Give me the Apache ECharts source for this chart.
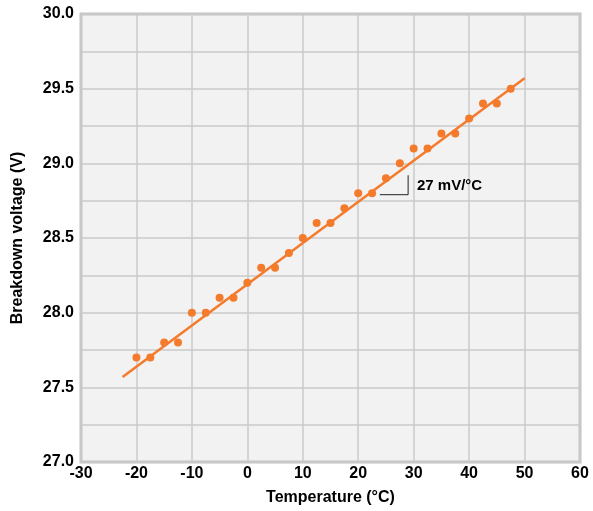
<!DOCTYPE html>
<html>
<head>
<meta charset="utf-8">
<script src="https://cdn.jsdelivr.net/npm/echarts@6/dist/echarts.min.js"></script>
<style>
  html, body { margin: 0; padding: 0; background: #fff; }
  #chart { width: 593px; height: 511px; }
</style>
</head>
<body>
<div id="chart"></div>
<script>
/**
 * DATA
 */
var temps = [-20, -17.5, -15, -12.5, -10, -7.5, -5, -2.5, 0, 2.5, 5, 7.5, 10, 12.5,
    15, 17.5, 20, 22.5, 25, 27.5, 30, 32.5, 35, 37.5, 40, 42.5, 45, 47.5];
var voltages = [27.7, 27.7, 27.8, 27.8, 28.0, 28.0, 28.1, 28.1, 28.2, 28.3, 28.3, 28.4, 28.5, 28.6,
    28.6, 28.7, 28.8, 28.8, 28.9, 29.0, 29.1, 29.1, 29.2, 29.2, 29.3, 29.4, 29.4, 29.5];
var fitLine = [[-22.5, 27.57], [50, 29.57]];
var slopeMark = [[23.9, 28.79], [29.0, 28.79], [29.0, 28.92]];
var slopeText = '27 mV/°C';
var slopeTextAt = [30.6, 28.85];

/**
 * CODE
 */
var orange = '#f47a2c';
var font = 'Liberation Sans, Arial, sans-serif';

var points = temps.map(function (t, i) {
    return [t, voltages[i]];
});

var chart = echarts.init(document.getElementById('chart'));
chart.setOption({
    animation: false,
    grid: {
        left: 81, top: 14, right: 13, bottom: 49,
        show: true,
        backgroundColor: '#f2f2f2',
        borderColor: '#c2c2c2',
        borderWidth: 3
    },
    xAxis: {
        type: 'value',
        min: -30, max: 60, interval: 10,
        name: 'Temperature (°C)',
        nameLocation: 'middle',
        nameGap: 28,
        nameTextStyle: {fontFamily: font, fontWeight: 'bold', fontSize: 16, color: '#000'},
        axisLine: {show: false},
        axisTick: {show: false},
        axisLabel: {fontFamily: font, fontWeight: 'bold', fontSize: 16, color: '#000', margin: 4},
        splitLine: {lineStyle: {color: '#cacaca', width: 1.5}}
    },
    yAxis: {
        type: 'value',
        min: 27, max: 30, interval: 0.5,
        name: 'Breakdown voltage (V)',
        nameLocation: 'middle',
        nameGap: 55,
        nameTextStyle: {fontFamily: font, fontWeight: 'bold', fontSize: 16, color: '#000'},
        axisLine: {show: false},
        axisTick: {show: false},
        minorTick: {show: false, splitNumber: 2},
        minorSplitLine: {show: true, lineStyle: {color: '#cacaca', width: 1.5}},
        axisLabel: {
            fontFamily: font, fontWeight: 'bold', fontSize: 16, color: '#000', margin: 7,
            formatter: function (v) { return v.toFixed(1); }
        },
        splitLine: {lineStyle: {color: '#cacaca', width: 1.5}}
    },
    series: [
        {
            type: 'line',
            data: fitLine,
            symbol: 'none',
            lineStyle: {color: orange, width: 2.5},
            z: 3
        },
        {
            type: 'scatter',
            data: points,
            symbolSize: 8,
            itemStyle: {color: orange, opacity: 1},
            z: 4
        },
        {
            type: 'line',
            data: slopeMark,
            symbol: 'none',
            lineStyle: {color: '#222', width: 1},
            z: 2
        },
        {
            type: 'scatter',
            data: [slopeTextAt],
            symbolSize: 0,
            itemStyle: {opacity: 1},
            label: {
                show: true,
                position: 'right',
                distance: 0,
                formatter: slopeText,
                fontFamily: font, fontWeight: 'bold', fontSize: 15, color: '#000'
            }
        }
    ]
});
</script>
</body>
</html>
